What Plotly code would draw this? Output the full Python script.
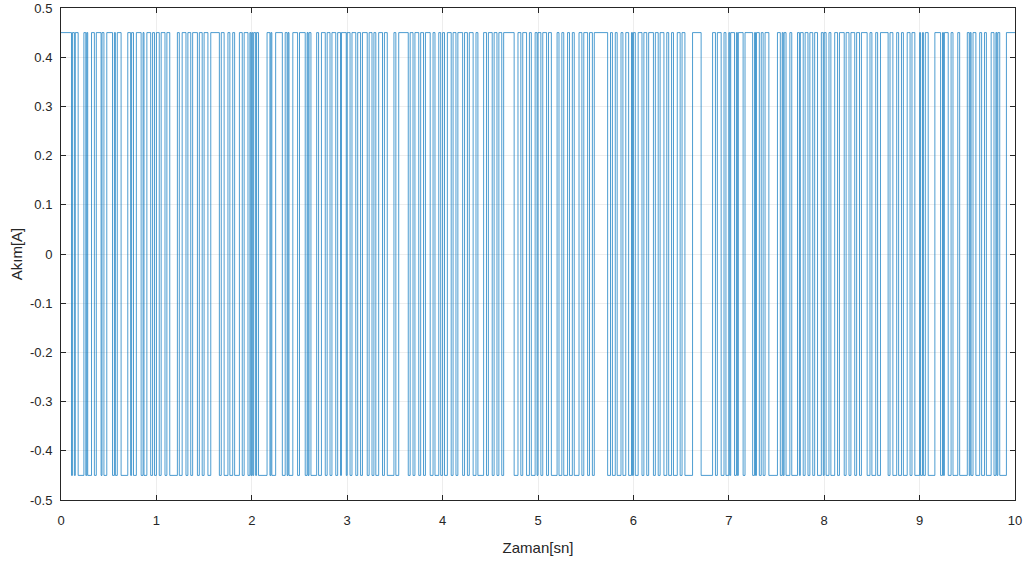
import numpy as np
import plotly.graph_objects as go

# Square-wave current: run lengths of each constant level, in units of 0.01 s,
# listed second by second. Levels alternate between +AMP and -AMP, starting high.
AMP = 0.45
DT = 0.01
runs_s0 = [11, 1, 2, 1, 3, 6, 2, 1, 1, 4, 3, 2, 5, 1, 2, 3, 6, 2, 1, 2, 4, 7, 3, 1, 2, 3, 5, 2, 1, 3, 4, 2, 2, 2]
runs_s1 = [3, 2, 4, 2, 3, 8, 2, 3, 4, 2, 3, 2, 5, 2, 3, 2, 4, 3, 9, 2, 3, 4, 2, 3, 2, 5, 3, 2, 4, 2, 1, 1]
runs_s2 = [1, 1, 2, 1, 2, 9, 3, 1, 1, 4, 7, 3, 2, 1, 1, 4, 5, 2, 6, 2, 1, 1, 2, 6, 2, 3, 4, 2, 3, 2, 4, 2, 3, 1, 5, 1]
runs_s3 = [3, 2, 4, 2, 3, 2, 5, 2, 3, 2, 2, 3, 4, 2, 3, 7, 2, 3, 10, 2, 3, 2, 4, 2, 3, 2, 5, 3, 2, 4, 2, 2]
runs_s4 = [2, 3, 4, 2, 3, 2, 5, 2, 3, 2, 4, 3, 2, 6, 3, 2, 4, 2, 3, 2, 3, 2, 11, 4, 3, 2, 4, 3, 2, 4, 2, 1]
runs_s5 = [3, 2, 4, 2, 3, 6, 2, 3, 2, 4, 2, 3, 2, 5, 3, 2, 4, 2, 3, 2, 14, 3, 2, 3, 2, 4, 2, 3, 3, 3, 1, 1]
runs_s6 = [2, 3, 4, 2, 3, 2, 5, 2, 3, 2, 4, 3, 2, 3, 2, 4, 3, 2, 3, 8, 9, 12, 3, 2, 4, 3, 2, 3]
runs_s7 = [1, 1, 4, 2, 1, 1, 5, 2, 8, 2, 1, 1, 3, 2, 2, 2, 4, 9, 3, 2, 1, 1, 2, 4, 2, 6, 2, 1, 3, 2, 3, 2, 3, 2, 3, 4, 2, 1]
runs_s8 = [2, 3, 2, 4, 3, 2, 5, 2, 3, 2, 4, 2, 3, 2, 6, 3, 2, 4, 2, 3, 8, 2, 3, 4, 2, 3, 2, 4, 3, 2, 3, 5]
runs_s9 = [1, 2, 1, 2, 3, 7, 6, 2, 1, 1, 4, 3, 2, 5, 2, 8, 2, 1, 1, 2, 3, 4, 2, 3, 2, 5, 3, 2, 1, 1, 2, 7, 9]

x_ticks = [0, 1, 2, 3, 4, 5, 6, 7, 8, 9, 10]
y_ticks = [-0.5, -0.4, -0.3, -0.2, -0.1, 0, 0.1, 0.2, 0.3, 0.4, 0.5]
y_ticktext = ["-0.5", "-0.4", "-0.3", "-0.2", "-0.1", "0", "0.1", "0.2", "0.3", "0.4", "0.5"]

runs = np.array(runs_s0 + runs_s1 + runs_s2 + runs_s3 + runs_s4 +
                runs_s5 + runs_s6 + runs_s7 + runs_s8 + runs_s9, dtype=float)
starts = np.concatenate([[0.0], np.cumsum(runs)[:-1]]) * DT
levels = np.where(np.arange(len(runs)) % 2 == 0, AMP, -AMP)

t = np.concatenate([starts, [10.0]])
i = np.concatenate([levels, [levels[-1]]])

fig = go.Figure()
fig.add_trace(go.Scatter(
    x=t, y=i, mode="lines", line_shape="hv",
    line=dict(color="#0072BD", width=0.7),
    showlegend=False, hoverinfo="skip",
))

font_family = "Liberation Sans, Arial, sans-serif"
axis_common = dict(
    showline=True, linecolor="#262626", linewidth=1, mirror="ticks",
    ticks="inside", ticklen=5, tickcolor="#262626",
    showgrid=True, gridcolor="rgba(0,0,0,0.07)", gridwidth=1,
    zeroline=False, automargin=False,
    tickfont=dict(family=font_family, size=13, color="#262626"),
)

fig.update_layout(
    width=1026, height=563,
    margin=dict(l=61, r=11, t=8, b=63),
    paper_bgcolor="white", plot_bgcolor="white",
    xaxis=dict(range=[0, 10], tickvals=x_ticks, ticklabelstandoff=8,
               title=dict(text="Zaman[sn]", standoff=15,
                          font=dict(family=font_family, size=15, color="#262626")),
               **axis_common),
    yaxis=dict(range=[-0.5, 0.5], tickvals=y_ticks, ticktext=y_ticktext,
               ticklabelstandoff=5,
               title=dict(text="Akım[A]", standoff=3,
                          font=dict(family=font_family, size=15, color="#262626")),
               **axis_common),
)

fig.write_html("out.html")
